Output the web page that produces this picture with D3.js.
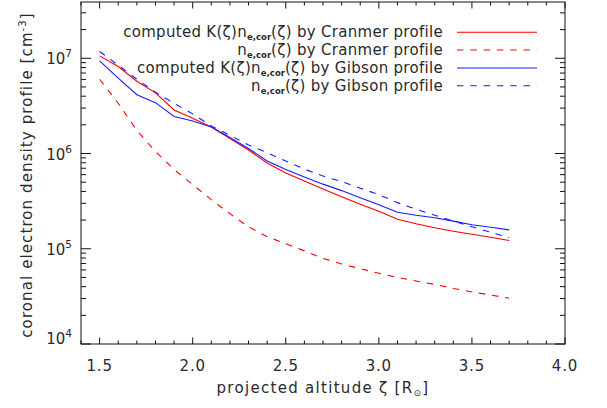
<!DOCTYPE html>
<html><head><meta charset="utf-8">
<script src="https://cdn.jsdelivr.net/npm/d3@7"></script>
<style>
body{margin:0;background:#fff;}
svg text{font-family:"DejaVu Sans",Arial,sans-serif;fill:#2a2a2a;}
</style></head>
<body><svg id="c" width="607" height="408"></svg>
<script>
// ---- data ----
const altitude = [1.5,1.6,1.7,1.8,1.9,2.0,2.1,2.2,2.3,2.4,2.5,2.6,2.7,2.8,2.9,3.0,3.1,3.2,3.3,3.4,3.5,3.6,3.7];
const computedCranmer = [1.06e7,8.2e6,5.74e6,4.34e6,2.87e6,2.34e6,1.90e6,1.44e6,1.09e6,7.94e5,6.26e5,5.14e5,4.23e5,3.52e5,2.94e5,2.48e5,2.04e5,1.83e5,1.66e5,1.53e5,1.42e5,1.32e5,1.22e5];
const neCranmer = [6.03e6,3.37e6,1.75e6,1.05e6,6.79e5,4.72e5,3.28e5,2.33e5,1.70e5,1.34e5,1.13e5,9.5e4,7.91e4,6.93e4,6.18e4,5.53e4,5.0e4,4.59e4,4.22e4,3.83e4,3.52e4,3.27e4,3.02e4];
const computedGibson = [9.4e6,6.18e6,4.14e6,3.42e6,2.45e6,2.20e6,1.90e6,1.47e6,1.13e6,8.34e5,6.79e5,5.66e5,4.77e5,4.08e5,3.44e5,2.90e5,2.42e5,2.25e5,2.12e5,1.95e5,1.79e5,1.68e5,1.58e5];
const neGibson = [1.18e7,8.47e6,6.03e6,4.40e6,3.37e6,2.61e6,1.95e6,1.55e6,1.23e6,1.02e6,8.34e5,6.87e5,5.80e5,5.07e5,4.33e5,3.70e5,3.05e5,2.60e5,2.25e5,1.95e5,1.70e5,1.49e5,1.31e5];
const xTickLabels = ["1.5","2.0","2.5","3.0","3.5","4.0"];
const yTickExponents = ["4","5","6","7"];
const seriesNames = ["Cranmer","Cranmer","Gibson","Gibson"];

const svg = d3.select("#c");
const L=81,R=565,T=2,B=344;
const x = d3.scaleLinear().domain([1.4,4.0]).range([L,R]);
const y = d3.scaleLog().domain([1e4,3.9e7]).range([B,T]);

const series = [
  {v:computedCranmer,color:"#ff0000",dash:null,kind:"computed",name:seriesNames[0]},
  {v:neCranmer,color:"#ff0000",dash:"6.5,6.8",kind:"ne",name:seriesNames[1]},
  {v:computedGibson,color:"#1a1aff",dash:null,kind:"computed",name:seriesNames[2]},
  {v:neGibson,color:"#1a1aff",dash:"6.5,6.8",kind:"ne",name:seriesNames[3]}
];

const line = d3.line().x((d,i)=>x(altitude[i])).y(d=>y(d));
series.forEach(s=>{
  svg.append("path").datum(s.v).attr("d",line).attr("fill","none")
    .attr("stroke",s.color).attr("stroke-width",1.1)
    .attr("stroke-dasharray",s.dash);
});

// ---- axes (ticks inward, mirrored) ----
const ax = svg.append("g").attr("stroke","#111").attr("stroke-width",1);
ax.append("rect").attr("x",L).attr("y",T).attr("width",R-L).attr("height",B-T).attr("fill","none");
const xMinor = d3.range(14,41).map(v=>v/10);
xMinor.forEach(v=>{
  const major = Math.abs(v*2-Math.round(v*2))<1e-6;
  const len = major?6.5:3.5;
  ax.append("line").attr("x1",x(v)).attr("x2",x(v)).attr("y1",B).attr("y2",B-len);
  ax.append("line").attr("x1",x(v)).attr("x2",x(v)).attr("y1",T).attr("y2",T+len);
});
const yt = [];
for(let e=4;e<=7;e++) for(let m=1;m<=9;m++){const v=m*Math.pow(10,e); if(v<=3.9e7) yt.push([v,m===1]);}
yt.forEach(([v,major])=>{
  const len = major?10:5;
  ax.append("line").attr("y1",y(v)).attr("y2",y(v)).attr("x1",L).attr("x2",L+len);
  ax.append("line").attr("y1",y(v)).attr("y2",y(v)).attr("x1",R).attr("x2",R-len);
});

// tick labels
xTickLabels.forEach(t=>{
  svg.append("text").attr("x",x(+t)).attr("y",371).attr("text-anchor","middle")
    .attr("font-size",15).attr("letter-spacing",0.8).text(t);
});
yTickExponents.forEach(e=>{
  const yy = y(Math.pow(10,+e));
  const base = (+e===4)? B : yy+6;
  const t = svg.append("text").attr("x",72).attr("y",base).attr("text-anchor","end").attr("font-size",15);
  t.append("tspan").text("10");
  t.append("tspan").attr("font-size",10.5).attr("dy",-7).text(e);
});

// axis titles
const xt = svg.append("text").attr("x",323).attr("y",393).attr("text-anchor","middle")
  .attr("font-size",15).attr("letter-spacing",1.3);
xt.append("tspan").text("projected altitude ζ [R");
xt.append("tspan").attr("font-size",9).attr("dy",3).text("⊙");
xt.append("tspan").attr("dy",-3).text("]");

const ytt = svg.append("text").attr("transform","rotate(-90)").attr("x",-175).attr("y",32)
  .attr("text-anchor","middle").attr("font-size",15).attr("letter-spacing",1.1);
ytt.append("tspan").text("coronal electron density profile [cm");
ytt.append("tspan").attr("font-size",10).attr("dy",-6).text("-3");
ytt.append("tspan").attr("dy",6).text("]");

// legend
const legY = [32.3,50,68,85.7];
series.forEach((s,i)=>{
  const ly = legY[i];
  svg.append("line").attr("x1",457).attr("x2",537).attr("y1",ly).attr("y2",ly)
    .attr("stroke",s.color).attr("stroke-width",1.1).attr("stroke-dasharray",s.dash);
  const t = svg.append("text").attr("x",443).attr("y",ly+5).attr("text-anchor","end")
    .attr("font-size",15).attr("letter-spacing",0.3);
  if(s.kind==="computed"){
    t.append("tspan").text("computed K(ζ)n");
  } else {
    t.append("tspan").text("n");
  }
  t.append("tspan").attr("font-size",8.5).attr("font-weight","bold").attr("letter-spacing",0).attr("dy",3).text("e,cor");
  t.append("tspan").attr("dy",-3).text("(ζ) by "+s.name+" profile");
});
</script></body></html>
